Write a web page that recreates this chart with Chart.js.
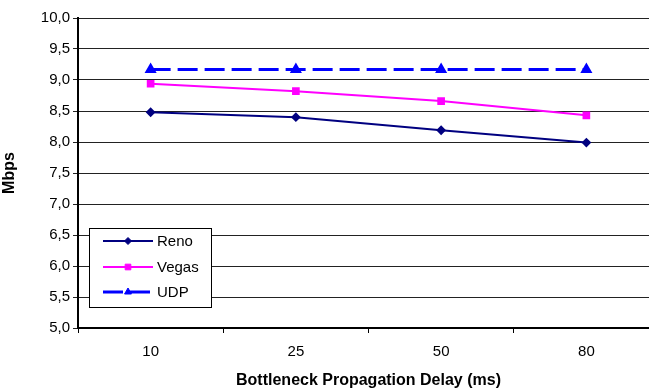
<!DOCTYPE html>
<html>
<head>
<meta charset="utf-8">
<script src="https://cdn.jsdelivr.net/npm/chart.js@4/dist/chart.umd.min.js"></script>
<style>
  html, body { margin: 0; padding: 0; background: #fff; overflow: hidden; }
  #wrap { width: 666px; height: 390px; position: relative; }
</style>
</head>
<body>
<div id="wrap"><canvas id="c" width="666" height="390"></canvas></div>
<script>
// Delay categories (ms) and throughput per protocol (Mbps)
const delays = ['10', '25', '50', '80'];
const reno  = [8.48, 8.40, 8.19, 7.99];
const vegas = [8.94, 8.82, 8.66, 8.43];
const udp   = [9.17, 9.17, 9.17, 9.17];
const yTicks = [5.0, 5.5, 6.0, 6.5, 7.0, 7.5, 8.0, 8.5, 9.0, 9.5, 10.0];

const FONT = 'Liberation Sans, Arial, sans-serif';

// Boxed legend drawn inside the plot area, lower left
const boxLegend = {
  id: 'boxLegend',
  afterDatasetsDraw(chart) {
    const ctx = chart.ctx;
    const x0 = 89.5, y0 = 228.5, w = 122, h = 79;
    ctx.save();
    ctx.fillStyle = '#fff';
    ctx.fillRect(x0, y0, w, h);
    ctx.strokeStyle = '#000';
    ctx.lineWidth = 1;
    ctx.strokeRect(x0, y0, w, h);
    const rows = [241, 267, 292];
    chart.data.datasets.forEach((ds, i) => {
      const y = rows[i];
      ctx.strokeStyle = ds.borderColor;
      ctx.lineWidth = ds.borderWidth;
      ctx.setLineDash(ds.borderDash || []);
      ctx.beginPath();
      ctx.moveTo(103, y);
      ctx.lineTo(153, y);
      ctx.stroke();
      ctx.setLineDash([]);
      ctx.fillStyle = ds.pointBackgroundColor;
      ctx.strokeStyle = ds.pointBorderColor;
      ctx.lineWidth = 1;
      Chart.helpers.drawPoint(ctx, {
        pointStyle: ds.pointStyle,
        radius: ds.pointRadius,
        rotation: 0,
        borderWidth: 1
      }, 128, y);
      ctx.fillStyle = '#000';
      ctx.font = '15px ' + FONT;
      ctx.textBaseline = 'middle';
      ctx.textAlign = 'left';
      ctx.fillText(ds.label, 157, y + 1);
    });
    ctx.restore();
  }
};

new Chart(document.getElementById('c'), {
  type: 'line',
  data: {
    labels: delays,
    datasets: [
      {
        label: 'Reno', data: reno,
        borderColor: '#000080', backgroundColor: '#000080',
        borderWidth: 2, pointStyle: 'rectRot', pointRadius: 3.5,
        pointBorderColor: '#000080', pointBackgroundColor: '#000080'
      },
      {
        label: 'Vegas', data: vegas,
        borderColor: '#FF00FF', backgroundColor: '#FF00FF',
        borderWidth: 2, pointStyle: 'rect', pointRadius: 4,
        pointBorderColor: '#FF00FF', pointBackgroundColor: '#FF00FF'
      },
      {
        label: 'UDP', data: udp,
        borderColor: '#0000FF', backgroundColor: '#0000FF',
        borderWidth: 3, borderDash: [20, 7], pointStyle: 'triangle', pointRadius: 4,
        pointBorderColor: '#0000FF', pointBackgroundColor: '#0000FF'
      }
    ]
  },
  options: {
    responsive: false,
    animation: false,
    layout: { padding: { top: 18, left: 0, right: 3, bottom: 0 } },
    plugins: { legend: { display: false }, tooltip: { enabled: false } },
    elements: { line: { tension: 0 } },
    scales: {
      x: {
        type: 'category',
        offset: true,
        grid: {
          offset: true, drawOnChartArea: false, drawTicks: true,
          tickLength: 5, color: '#000', lineWidth: 1
        },
        border: { color: '#000', width: 2 },
        ticks: { color: '#000', font: { family: FONT, size: 15 }, padding: 10 },
        title: {
          display: true, text: 'Bottleneck Propagation Delay (ms)',
          color: '#000', font: { family: FONT, size: 16, weight: 'bold' },
          padding: { top: 6, bottom: 0 }
        },
        afterFit(s) { s.height = 62; }
      },
      y: {
        min: 5, max: 10,
        afterBuildTicks(s) { s.ticks = yTicks.map(v => ({ value: v })); },
        grid: { color: '#222', lineWidth: 1, drawTicks: true, tickLength: 5 },
        border: { color: '#000', width: 2 },
        ticks: {
          color: '#000', font: { family: FONT, size: 15 }, padding: 3,
          callback: v => Number(v).toFixed(1).replace('.', ',')
        },
        title: {
          display: true, text: 'Mbps',
          color: '#000', font: { family: FONT, size: 16, weight: 'bold' },
          padding: { top: 0, bottom: 4 }
        },
        afterFit(s) { s.width = 78; }
      }
    }
  },
  plugins: [boxLegend]
});
</script>
</body>
</html>
